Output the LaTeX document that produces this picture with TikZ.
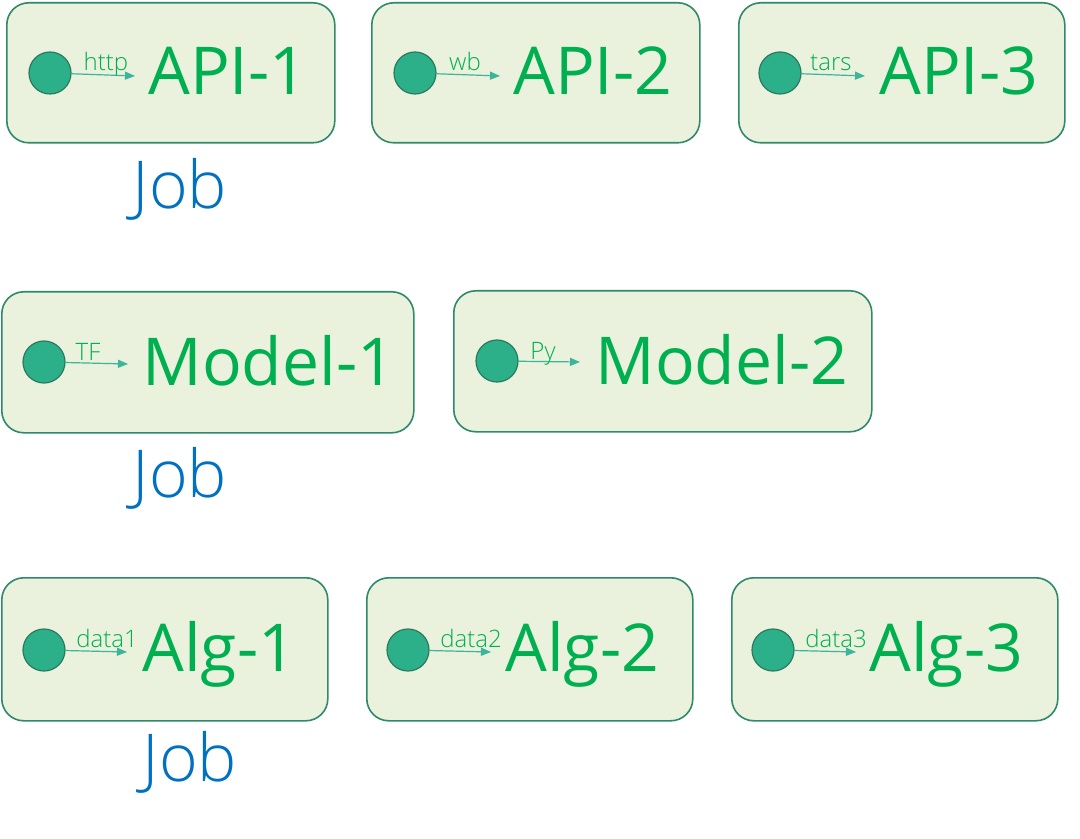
\documentclass[tikz,border=0pt]{standalone}
\usepackage{fontspec}
\setmainfont{Open Sans}
\newfontfamily\lightfont{Open Sans Light}
\usetikzlibrary{arrows.meta}

\definecolor{boxfill}{HTML}{EAF1DC}
\definecolor{boxline}{HTML}{2E8A68}
\definecolor{portfill}{HTML}{2BB08A}
\definecolor{portline}{HTML}{2A7A5E}
\definecolor{svcgreen}{HTML}{00B050}
\definecolor{jobblue}{HTML}{0070C0}
\definecolor{linkteal}{HTML}{3DB59A}

\tikzset{
  svcbox/.style={draw=boxline, fill=boxfill, line width=0.8pt, rounded corners=11pt,
    anchor=north west, inner sep=0pt, minimum height=70pt},
  port/.style={circle, draw=portline, fill=portfill, line width=0.6pt,
    minimum size=21pt, inner sep=0pt},
  svcname/.style={text=svcgreen, font=\fontsize{33}{33}\selectfont, anchor=base west, inner sep=0pt},
  proto/.style={text=svcgreen, font=\lightfont\fontsize{12}{12}\selectfont, anchor=base, inner sep=0pt},
  jobname/.style={text=jobblue, font=\lightfont\fontsize{33}{33}\selectfont, anchor=base, inner sep=0pt},
  link/.style={-{Triangle[length=5pt,width=4pt]}, draw=linkteal, line width=0.6pt}
}

\begin{document}
\begin{tikzpicture}[x=0.5pt, y=-0.5pt]
    \useasboundingbox (0,0) rectangle (1080,839);

    % First row: APIs
    \node[svcbox, minimum width=164pt] (api1box) at (6,2) {};
    \node[svcbox, minimum width=164pt] (api2box) at (371,2) {};
    \node[svcbox, minimum width=163pt] (api3box) at (738,2) {};

    \node[port] (api1port) at (50,73) {};
    \node[port] (api2port) at (415,73) {};
    \node[port] (api3port) at (780,73) {};
    \coordinate (api1end) at (135,76);
    \coordinate (api2end) at (500,76);
    \coordinate (api3end) at (865,76);
    \draw[link] (api1port) -- (api1end);
    \draw[link] (api2port) -- (api2end);
    \draw[link] (api3port) -- (api3end);

    \node[proto] (api1proto) at (106,71) {http};
    \node[proto] (api2proto) at (465,71) {wb};
    \node[proto] (api3proto) at (831,71) {tars};

    \node[svcname] (api1) at (148,95) {API-1};
    \node[svcname] (api2) at (513,95) {API-2};
    \node[svcname] (api3) at (879,95) {API-3};

    \node[jobname] (job1) at (180,209) {Job};

    % Second row: models
    \node[svcbox, minimum width=206pt, minimum height=70.5pt] (model1box) at (1,291) {};
    \node[svcbox, minimum width=209pt, minimum height=70.5pt] (model2box) at (453,290) {};

    \node[port] (model1port) at (44,362) {};
    \node[port] (model2port) at (497,361) {};
    \coordinate (model1end) at (128,364);
    \coordinate (model2end) at (580,362);
    \draw[link] (model1port) -- (model1end);
    \draw[link] (model2port) -- (model2end);

    \node[proto] (model1proto) at (88,360) {TF};
    \node[proto] (model2proto) at (543,359) {Py};

    \node[svcname] (model1) at (142,385) {Model-1};
    \node[svcname] (model2) at (595,384) {Model-2};

    \node[jobname] (job2) at (180,497) {Job};

    % Third row: algorithms
    \node[svcbox, minimum width=163pt, minimum height=71.5pt] (alg1box) at (1,577) {};
    \node[svcbox, minimum width=163pt, minimum height=71.5pt] (alg2box) at (366,577) {};
    \node[svcbox, minimum width=163pt, minimum height=71.5pt] (alg3box) at (731,577) {};

    \node[port] (alg1port) at (44,650) {};
    \node[port] (alg2port) at (408,650) {};
    \node[port] (alg3port) at (773,650) {};
    \coordinate (alg1end) at (127,652);
    \coordinate (alg2end) at (491,652);
    \coordinate (alg3end) at (856,652);
    \draw[link] (alg1port) -- (alg1end);
    \draw[link] (alg2port) -- (alg2end);
    \draw[link] (alg3port) -- (alg3end);

    \node[proto] (alg1proto) at (107,647) {data1};
    \node[proto] (alg2proto) at (471,647) {data2};
    \node[proto] (alg3proto) at (836,647) {data3};

    \node[svcname] (alg1) at (142,671) {Alg-1};
    \node[svcname] (alg2) at (505,671) {Alg-2};
    \node[svcname] (alg3) at (869,671) {Alg-3};

    \node[jobname] (job3) at (190,781) {Job};
\end{tikzpicture}
\end{document}
